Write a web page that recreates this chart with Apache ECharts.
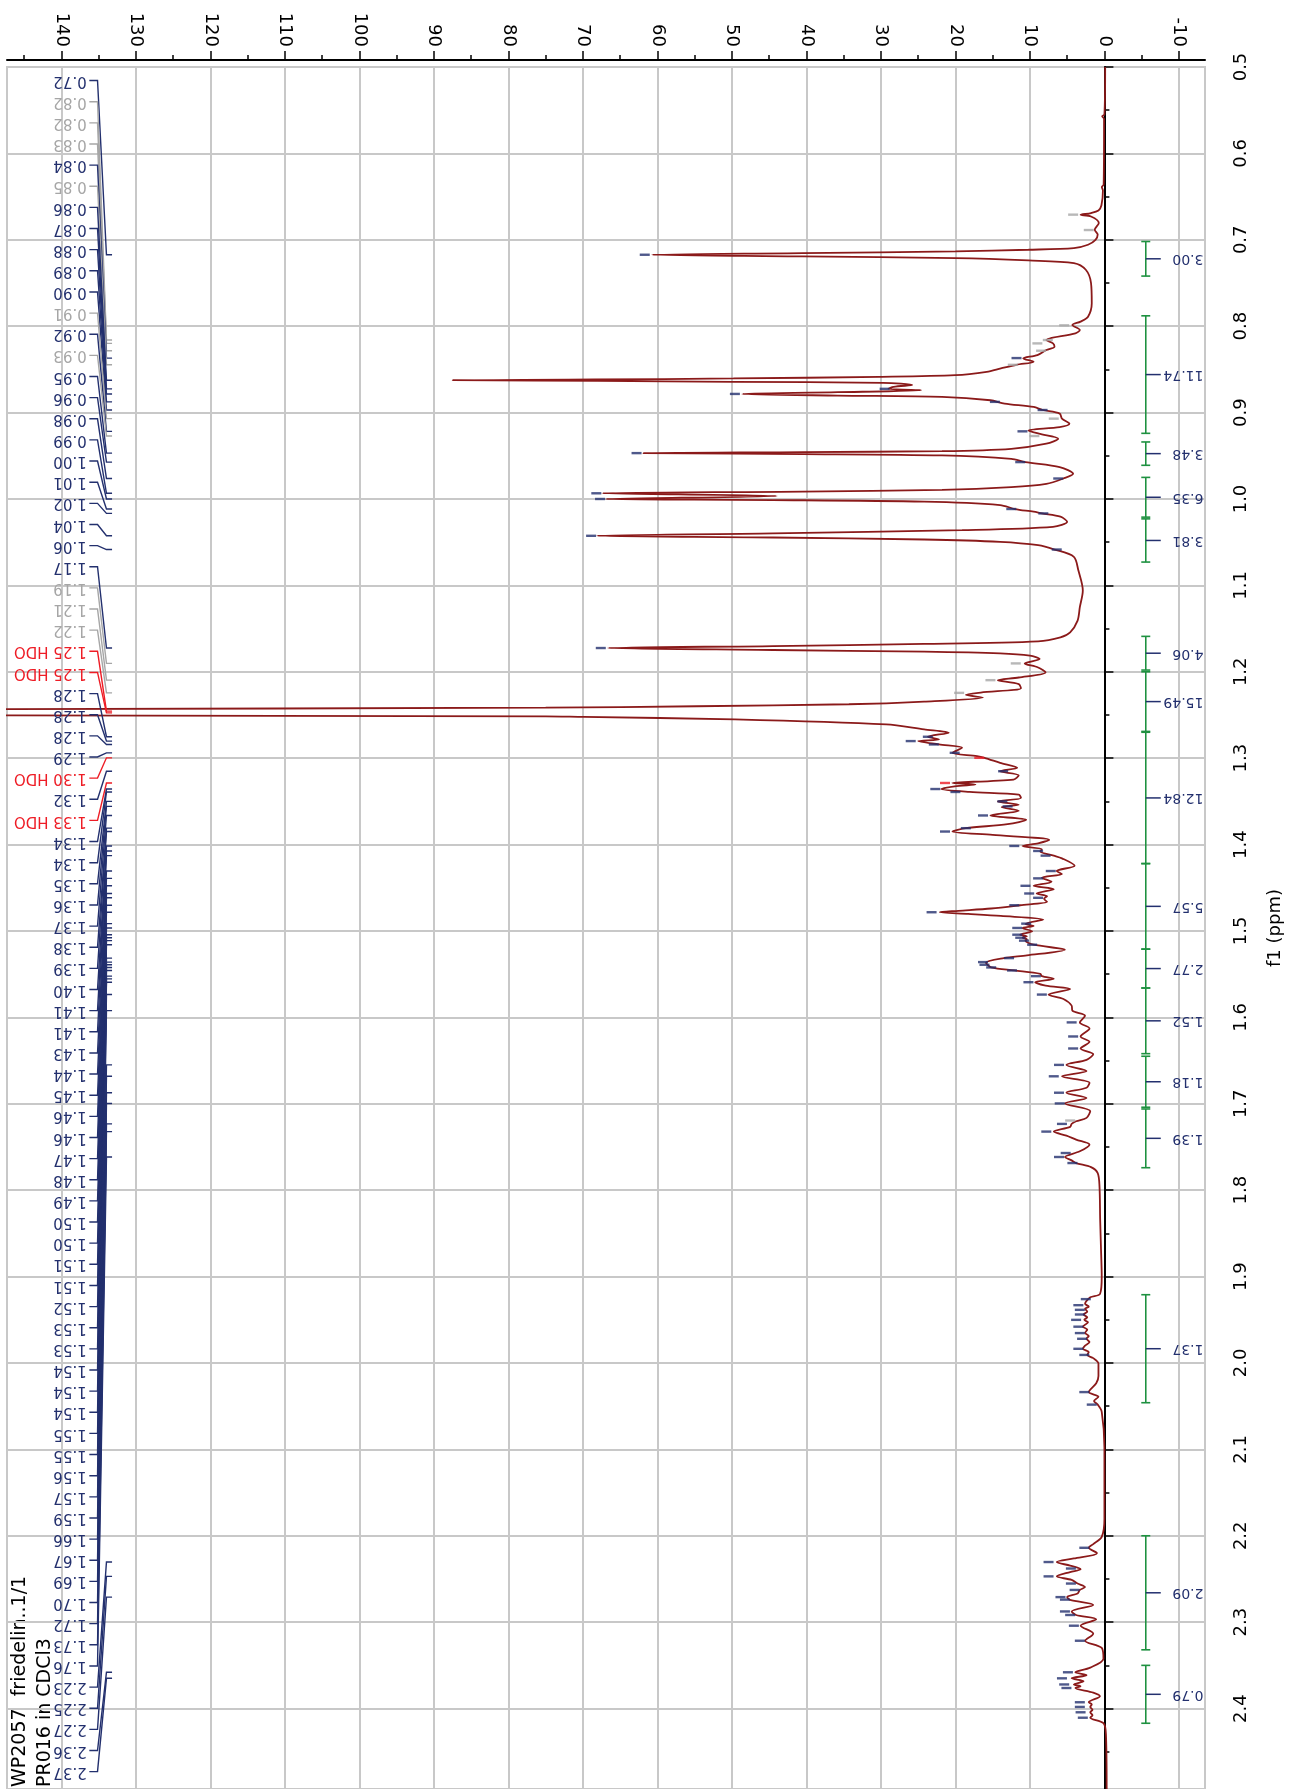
<!DOCTYPE html>
<html><head><meta charset="utf-8">
<script src="https://cdn.jsdelivr.net/npm/echarts@6/dist/echarts.min.js"></script>
<style>html,body{margin:0;padding:0;background:#fff}#chart{width:1292px;height:1789px}</style>
</head><body><div id="chart"></div>
<script>
// ---------- axis ticks ----------
const X_TICKS = [-10,0,10,20,30,40,50,60,70,80,90,100,110,120,130,140];
const X_MINOR = [-5,5,15,25,35,45,55,65,75,85,95,105,115,125,135,145];
const Y_TICKS = [0.5,0.6,0.7,0.8,0.9,1.0,1.1,1.2,1.3,1.4,1.5,1.6,1.7,1.8,1.9,2.0,2.1,2.2,2.3,2.4];
const Y_MINOR = [0.55,0.65,0.75,0.85,0.95,1.05,1.15,1.25,1.35,1.45,1.55,1.65,1.75,1.85,1.95,2.05,2.15,2.25,2.35,2.45];

// ---------- spectrum trace [ppm, intensity] ----------
const SPECTRUM = [
[0.500,-0.1],[0.555,0.0],[0.557,0.3],[0.560,0.05],[0.636,0.1],[0.639,0.35],[0.643,0.2],[0.660,0.4],[0.666,0.8],[0.669,1.8],[0.671,3.2],[0.673,1.8],[0.6805,0.75],[0.6883,1.3],[0.694,0.9],[0.700,1.2],[0.7057,2.2],[0.7096,4.1],[0.7115,10.2],[0.7134,20],[0.7154,40.5],[0.7173,60.7],[0.7192,40.5],[0.7212,20],[0.7239,10.2],[0.727,4.1],[0.7347,2.5],[0.750,1.8],[0.7734,1.7],[0.789,2.2],[0.7947,3.2],[0.7986,4.3],[0.8044,3.3],[0.8083,3.9],[0.816,7.8],[0.8199,6.9],[0.8238,6.7],[0.8276,7.8],[0.8334,9.0],[0.8373,10.9],[0.8412,9.5],[0.8447,11.8],[0.8489,13.9],[0.8528,15.8],[0.8567,20],[0.8586,30.2],[0.8605,49.8],[0.8617,68.4],[0.8625,87.5],[0.8633,68],[0.8644,49.8],[0.8656,29.7],[0.868,25.8],[0.8702,28.3],[0.8725,29],[0.8741,24.6],[0.8764,35.8],[0.8784,48.6],[0.8803,35.8],[0.8818,21.8],[0.8857,15.3],[0.8896,13.4],[0.8935,9.5],[0.897,8.3],[0.9012,6.0],[0.907,5.7],[0.9128,4.7],[0.9167,6.0],[0.9206,10.2],[0.9244,8.8],[0.9302,6.2],[0.936,7.8],[0.9419,12.5],[0.9446,21.8],[0.9457,40.5],[0.9469,61.9],[0.948,40.5],[0.9496,21.8],[0.9535,12.5],[0.9573,10.6],[0.9631,6.0],[0.9709,4.2],[0.9763,5.5],[0.9825,7.8],[0.9863,12.5],[0.9895,21.8],[0.9914,40.5],[0.9934,67.4],[0.9965,44],[1.0,66.9],[1.0012,44.5],[1.0031,24.2],[1.007,14.0],[1.0116,12.0],[1.0147,9.5],[1.0167,8.4],[1.0205,5.9],[1.0264,5.0],[1.0322,6.9],[1.036,19.1],[1.0399,44.5],[1.0426,68.1],[1.0446,44.5],[1.0469,24.2],[1.0496,14.0],[1.0535,8.9],[1.0585,6.7],[1.067,4.1],[1.0826,3.5],[1.1058,2.9],[1.1252,3.3],[1.1407,3.6],[1.1543,4.6],[1.1601,5.9],[1.1647,8.9],[1.1678,24.2],[1.1702,44.5],[1.1725,66.6],[1.1748,44.5],[1.1767,24.2],[1.1787,14.0],[1.1814,10.0],[1.1853,8.7],[1.1903,10.7],[1.195,8.9],[1.2008,7.9],[1.2066,11.5],[1.2097,14.3],[1.2143,11.5],[1.219,11.2],[1.224,16.6],[1.2267,18.6],[1.2298,16.3],[1.2345,24.2],[1.2376,34.3],[1.2399,54.7],[1.2415,75],[1.2432,147],[1.2445,260],[1.2490,260],[1.2505,147],[1.2515,75],[1.2523,69.9],[1.255,49.6],[1.2609,29.3],[1.2667,24.2],[1.2705,20.9],[1.2752,23.7],[1.2783,22.2],[1.2802,25],[1.2841,22.2],[1.288,19.1],[1.2938,20.4],[1.2977,17.1],[1.2996,16.1],[1.3054,14.0],[1.3112,11.7],[1.3151,14.0],[1.3198,11.5],[1.3248,12.2],[1.3287,20.4],[1.3306,17.3],[1.3326,20.1],[1.3357,21.9],[1.3391,18.1],[1.3422,11.5],[1.3461,11.2],[1.35,14.3],[1.3539,11.5],[1.3566,13.8],[1.3609,11.5],[1.3663,15.3],[1.3713,10.5],[1.3764,13.0],[1.381,18.6],[1.3849,20.4],[1.3888,15.0],[1.3946,7.4],[1.3985,8.9],[1.4016,11.0],[1.4054,8.4],[1.4081,8.6],[1.4128,6.8],[1.4159,5.7],[1.4244,4.0],[1.4306,6.4],[1.4341,5.7],[1.4384,8.4],[1.443,7.1],[1.4477,9.5],[1.4516,6.8],[1.4566,9.1],[1.4597,7.7],[1.4628,8.1],[1.4663,7.7],[1.4702,11.3],[1.474,15.2],[1.4767,19.6],[1.4783,22.1],[1.4802,18.3],[1.4826,13.9],[1.4868,8.2],[1.4919,10.6],[1.4942,9.5],[1.4965,11],[1.5004,9.7],[1.5043,11.3],[1.5062,10.4],[1.5078,11.0],[1.5097,10.4],[1.5112,10.6],[1.5159,9.5],[1.5217,5.3],[1.5283,10.4],[1.5314,13.5],[1.5368,15.9],[1.5422,15.2],[1.5457,12.1],[1.5496,8.6],[1.5523,8.4],[1.5554,6.8],[1.5593,9.3],[1.5632,7.9],[1.5671,4.6],[1.5736,7.5],[1.5787,5.5],[1.5864,4.4],[1.5922,4.3],[1.5981,2.6],[1.6058,3.3],[1.6128,2.0],[1.6221,3.2],[1.6283,2.0],[1.636,3.2],[1.6426,1.5],[1.6492,2.4],[1.655,5.1],[1.662,2.4],[1.6682,5.7],[1.6756,2.0],[1.6814,2.4],[1.6872,5.1],[1.6934,2.4],[1.6996,5.3],[1.7085,1.9],[1.7163,2.4],[1.7202,3.8],[1.7233,4.4],[1.7267,4.6],[1.7322,6.8],[1.7368,5.1],[1.7415,3.8],[1.7473,2.0],[1.755,3.3],[1.7616,5.3],[1.7655,4.4],[1.7686,3.8],[1.7733,1.8],[1.7802,0.9],[1.7957,0.66],[1.8345,0.57],[1.8733,0.44],[1.9,0.36],[1.9199,0.58],[1.924,1.9],[1.9282,2.4],[1.9315,2.6],[1.9348,2.1],[1.9373,2.6],[1.9406,2.3],[1.9439,2.8],[1.9472,2.3],[1.9501,2.7],[1.953,2.2],[1.958,2.9],[1.9613,2.3],[1.9654,2.6],[1.9687,2.1],[1.972,2.4],[1.9758,2.0],[1.9799,2.6],[1.9836,2.9],[1.9874,2.1],[1.9907,2.3],[1.9944,1.5],[2.0006,0.8],[2.0151,0.8],[2.0234,1.1],[2.0337,2.1],[2.0391,0.8],[2.0441,1.4],[2.0482,0.9],[2.0565,0.36],[2.0979,0],[2.1807,0],[2.2014,0.36],[2.2097,1.5],[2.2139,2.1],[2.2201,1.0],[2.2263,4.1],[2.2304,6.4],[2.2346,4.6],[2.2387,3.2],[2.242,4.6],[2.247,6.4],[2.2511,4.4],[2.2553,3.6],[2.2594,2.6],[2.2627,3.3],[2.2669,3.6],[2.271,5.0],[2.2743,4.6],[2.2801,1.5],[2.2876,4.4],[2.2917,3.8],[2.2967,1.1],[2.3041,3.2],[2.3133,1.5],[2.3215,2.6],[2.3298,0.36],[2.3422,0.13],[2.3526,1.9],[2.358,3.9],[2.3613,2.4],[2.365,4.4],[2.3683,2.8],[2.3721,4.1],[2.3741,3.2],[2.3762,3.9],[2.3816,1.5],[2.3857,0.6],[2.3927,2.1],[2.3952,1.7],[2.3981,1.9],[2.4014,1.6],[2.4043,1.9],[2.4077,1.6],[2.4106,1.9],[2.4168,0.13],[2.4292,-0.2],[2.4931,-0.3]
];

// ---------- picked-peak markers [ppm, intensity] ----------
const PEAK_MARK_NAVY = [[0.7173,61.7],[0.8369,11.8],[0.8725,29.5],[0.8784,49.6],[0.8876,14.7],[0.897,8.3],[0.9217,11.0],[0.9469,62.8],[0.9573,11.3],[0.9763,6.2],[0.9934,68.2],[1.0,67.7],[1.0116,12.5],[1.0167,8.2],[1.0426,68.9],[1.0585,6.4],[1.1725,67.6],[1.2752,23.7],[1.2802,26.0],[1.2841,22.9],[1.2938,20.1],[1.3151,13.6],[1.3357,22.7],[1.3391,20.0],[1.35,13.7],[1.3558,13.0],[1.3663,16.3],[1.381,18.6],[1.3849,21.4],[1.4016,12.1],[1.4074,8.9],[1.4128,7.9],[1.4306,7.2],[1.4391,8.9],[1.4477,10.6],[1.4566,10.1],[1.4616,8.9],[1.4702,12.1],[1.4783,23.2],[1.4915,10.5],[1.4965,11.7],[1.5043,11.7],[1.5078,11.3],[1.5112,10.8],[1.5159,9.7],[1.5314,12.8],[1.536,16.3],[1.5391,16.1],[1.5422,15.2],[1.5457,12.4],[1.5523,9.2],[1.5593,10.2],[1.5736,8.4],[1.6058,4.4],[1.6221,4.2],[1.636,4.2],[1.655,6.1],[1.6682,6.8],[1.6872,6.1],[1.6996,6.0],[1.7233,5.7],[1.7322,7.8],[1.757,5.2],[1.7616,6.1],[1.7686,4.3],[1.9261,2.5],[1.9331,3.5],[1.9385,3.3],[1.9439,3.3],[1.9501,3.8],[1.958,3.5],[1.9654,3.3],[1.972,3.0],[1.9836,3.5],[1.9907,2.7],[2.0337,2.7],[2.0482,1.7],[2.2139,2.7],[2.2304,7.5],[2.2379,4.5],[2.247,7.5],[2.2553,4.5],[2.2627,4.0],[2.271,5.9],[2.2739,5.3],[2.2876,5.3],[2.2917,4.6],[2.3041,4.1],[2.3215,3.3],[2.358,4.9],[2.365,5.7],[2.3721,5.4],[2.3762,5.1],[2.3927,3.3],[2.3981,3.3],[2.4043,3.2],[2.4106,2.9]];
const PEAK_MARK_GREY = [[0.6709,4.2],[0.6887,2.1],[0.799,5.4],[0.816,7.6],[0.8199,9.0],[0.8284,8.5],[0.8447,12.3],[0.907,6.8],[0.9271,9.4],[1.1903,11.9],[1.2097,15.3],[1.2244,19.5],[1.7194,4.6]];
const PEAK_MARK_RED = [[1.2996,16.8],[1.3287,21.4]];

// ---------- peak labels ----------
const PEAK_LABEL_TEXT = ['0.72','0.82','0.82','0.83','0.84','0.85','0.86','0.87','0.88','0.89','0.90','0.91','0.92','0.93','0.95','0.96','0.98','0.99','1.00','1.01','1.02','1.04','1.06','1.17','1.19','1.21','1.22','1.25 HDO','1.25 HDO','1.28','1.28','1.28','1.29','1.30 HDO','1.32','1.33 HDO','1.34','1.34','1.35','1.36','1.37','1.38','1.39','1.40','1.41','1.41','1.43','1.44','1.45','1.46','1.46','1.47','1.48','1.49','1.50','1.50','1.51','1.51','1.52','1.53','1.53','1.54','1.54','1.54','1.55','1.55','1.56','1.57','1.59','1.66','1.67','1.69','1.70','1.72','1.73','1.76','2.23','2.25','2.27','2.36','2.37'];
const PEAK_LABEL_PPM = [0.7173,0.816,0.8199,0.8284,0.8369,0.8447,0.8625,0.8725,0.8784,0.8876,0.897,0.907,0.9217,0.9271,0.9469,0.9573,0.9763,0.9934,1.0,1.0116,1.0167,1.0426,1.0585,1.1725,1.1903,1.2097,1.2244,1.2455,1.2475,1.2752,1.2802,1.2841,1.2938,1.2996,1.3151,1.3287,1.3357,1.3391,1.35,1.3558,1.3663,1.381,1.3849,1.4016,1.4074,1.4128,1.4306,1.4391,1.4477,1.4566,1.4616,1.4702,1.4783,1.4915,1.4965,1.5043,1.5078,1.5112,1.5159,1.5314,1.536,1.5391,1.5422,1.5457,1.5523,1.5554,1.5593,1.5736,1.5922,1.655,1.6682,1.6872,1.6996,1.7233,1.7322,1.7616,2.2304,2.247,2.271,2.358,2.365];
const PEAK_LABEL_KIND = PEAK_LABEL_TEXT.map((t,i)=> /HDO/.test(t) ? 'r' : ([1,2,3,5,11,13,24,25,26].indexOf(i) >= 0 ? 'g' : 'n'));

// ---------- integrals ----------
const INT_START = [0.702,0.788,0.934,0.975,1.023,1.159,1.200,1.270,1.422,1.521,1.566,1.645,1.706,1.921,2.200,2.350];
const INT_END   = [0.742,0.924,0.961,1.021,1.073,1.198,1.269,1.422,1.521,1.566,1.642,1.704,1.774,2.046,2.332,2.417];
const INT_VALUE = [3.00,11.74,3.48,6.35,3.81,4.06,15.49,12.84,5.57,2.77,1.52,1.18,1.39,1.37,2.09,0.79];

const TITLE_LINES = ['WP2057  friedelin..1/1', 'PR016 in CDCl3'];

// ---------- styling constants ----------
const NAVY = '#23306e', GREY = '#a6a6a6', RED = '#ee1c25', GREEN = '#1e9140', TRACE = '#8b1a1a';
const KIND_COLOR = {n: NAVY, g: GREY, r: RED};
const FONT = '"DejaVu Sans", Verdana, sans-serif';
const X_MIN = -13.5, X_MAX = 147.3, Y_MIN = 0.5, Y_MAX = 2.4931;
const SLOT_FIRST = 0.5157, SLOT_LAST = 2.4730;   // label column extent (ppm)
const LBL_TEXT_I = 136.6, LBL_START_I = 136.25, LBL_STUB_I = 135.15, LBL_BEND_I = 133.95, LBL_TICK_I = 133.2;
const INT_BAR_I = -5.55, INT_TEXT_I = -13.3;

const chart = echarts.init(document.getElementById('chart'), null, {renderer: 'canvas'});

const commonX = {type:'value', position:'top', inverse:true, min:X_MIN, max:X_MAX, offset:7, gridIndex:0};
const commonY = {type:'value', position:'right', inverse:true, min:Y_MIN, max:Y_MAX, offset:9, gridIndex:0};

const option = {
  animation: false,
  backgroundColor: '#fff',
  grid: {left:7, right:74, top:67, bottom:0, show:true, borderColor:'#c8c8c8', borderWidth:2, backgroundColor:'transparent'},
  xAxis: [
    Object.assign({}, commonX, {
      axisLine:{show:true, lineStyle:{color:'#000', width:2}},
      axisTick:{show:true, customValues:X_TICKS, length:9, lineStyle:{color:'#000', width:1.5}},
      axisLabel:{show:true, customValues:X_TICKS, rotate:90, margin:13, fontSize:18, color:'#000', fontFamily:FONT},
      splitLine:{show:true, lineStyle:{color:'#c8c8c8', width:2}}
    }),
    Object.assign({}, commonX, {
      axisLine:{show:false},
      axisTick:{show:true, customValues:X_MINOR, length:5, lineStyle:{color:'#000', width:1.5}},
      axisLabel:{show:false},
      splitLine:{show:false}
    })
  ],
  yAxis: [
    Object.assign({}, commonY, {
      name:'f1 (ppm)', nameLocation:'middle', nameGap:52, nameRotate:90,
      nameTextStyle:{fontSize:18, color:'#000', fontFamily:FONT},
      axisLine:{show:true, lineStyle:{color:'#000', width:2}},
      axisTick:{show:true, customValues:Y_TICKS, length:9, lineStyle:{color:'#000', width:1.5}},
      axisLabel:{show:true, customValues:Y_TICKS, rotate:90, margin:18, fontSize:18, color:'#000', fontFamily:FONT,
        formatter: v => (+v).toFixed(1)},
      splitLine:{show:true, lineStyle:{color:'#c8c8c8', width:2}}
    }),
    Object.assign({}, commonY, {
      axisLine:{show:false},
      axisTick:{show:true, customValues:Y_MINOR, length:5, lineStyle:{color:'#000', width:1.5}},
      axisLabel:{show:false},
      splitLine:{show:false}
    })
  ],
  series: [
    {
      type:'line', name:'spectrum', xAxisIndex:0, yAxisIndex:0, showSymbol:false, symbol:'none',
      clip:true, z:3, silent:true, smooth:0.3,
      lineStyle:{color:TRACE, width:1.8},
      data: SPECTRUM.map(([p, v]) => [v, p])
    },
    {
      type:'scatter', xAxisIndex:0, yAxisIndex:0, symbol:'rect', symbolSize:[10,2.4], z:4, silent:true,
      itemStyle:{color:NAVY}, data: PEAK_MARK_NAVY.map(([p, v]) => [v, p])
    },
    {
      type:'scatter', xAxisIndex:0, yAxisIndex:0, symbol:'rect', symbolSize:[10,2.4], z:4, silent:true,
      itemStyle:{color:GREY}, data: PEAK_MARK_GREY.map(([p, v]) => [v, p])
    },
    {
      type:'scatter', xAxisIndex:0, yAxisIndex:0, symbol:'rect', symbolSize:[10,2.4], z:4, silent:true,
      itemStyle:{color:RED}, data: PEAK_MARK_RED.map(([p, v]) => [v, p])
    },
    {
      type:'custom', xAxisIndex:0, yAxisIndex:0, clip:false, silent:true, z:5,
      data: PEAK_LABEL_PPM.map(p => [LBL_TICK_I, p]),
      renderItem: function (params, api) {
        const i = params.dataIndex;
        const slot = SLOT_FIRST + i * (SLOT_LAST - SLOT_FIRST) / (PEAK_LABEL_TEXT.length - 1);
        const yl = api.coord([0, slot])[1];
        const yp = api.coord([0, PEAK_LABEL_PPM[i]])[1];
        const xt = api.coord([LBL_TEXT_I, Y_MIN])[0];
        const x0 = api.coord([LBL_START_I, Y_MIN])[0];
        const x1 = api.coord([LBL_STUB_I, Y_MIN])[0];
        const x2 = api.coord([LBL_BEND_I, Y_MIN])[0];
        const x3 = api.coord([LBL_TICK_I, Y_MIN])[0];
        const col = KIND_COLOR[PEAK_LABEL_KIND[i]];
        return {
          type:'group',
          children:[
            {type:'polyline', shape:{points:[[x0,yl],[x1,yl],[x2,yp],[x3,yp]]},
             style:{stroke:col, lineWidth:1.4, fill:null}},
            {type:'text', x:xt, y:yl, rotation:Math.PI,
             style:{text:PEAK_LABEL_TEXT[i], fill:col, font:'15px ' + FONT, align:'left', verticalAlign:'middle'}}
          ]
        };
      }
    },
    {
      type:'custom', xAxisIndex:0, yAxisIndex:0, clip:false, silent:true, z:5,
      data: INT_START.map((s, i) => [INT_BAR_I, (s + INT_END[i]) / 2]),
      renderItem: function (params, api) {
        const i = params.dataIndex;
        const x = api.coord([INT_BAR_I, Y_MIN])[0];
        const xt = api.coord([INT_TEXT_I, Y_MIN])[0];
        const y1 = api.coord([0, INT_START[i]])[1];
        const y2 = api.coord([0, INT_END[i]])[1];
        const ym = (y1 + y2) / 2;
        const g = {stroke:GREEN, lineWidth:1.6};
        return {
          type:'group',
          children:[
            {type:'line', shape:{x1:x, y1:y1, x2:x, y2:y2}, style:g},
            {type:'line', shape:{x1:x-4.5, y1:y1, x2:x+4.5, y2:y1}, style:g},
            {type:'line', shape:{x1:x-4.5, y1:y2, x2:x+4.5, y2:y2}, style:g},
            {type:'line', shape:{x1:x, y1:ym, x2:x+15, y2:ym}, style:{stroke:NAVY, lineWidth:1.5}},
            {type:'text', x:xt, y:ym, rotation:Math.PI,
             style:{text:INT_VALUE[i].toFixed(2), fill:NAVY, font:'14px ' + FONT, align:'left', verticalAlign:'middle'}}
          ]
        };
      }
    }
  ],
  graphic: [
    {type:'text', x:20, y:1787, rotation:Math.PI/2, silent:true,
     style:{text:TITLE_LINES[0], fill:'#000', font:'19px ' + FONT, align:'left', verticalAlign:'middle'}},
    {type:'text', x:45, y:1787, rotation:Math.PI/2, silent:true,
     style:{text:TITLE_LINES[1], fill:'#000', font:'19px ' + FONT, align:'left', verticalAlign:'middle'}}
  ]
};
chart.setOption(option);
</script>
</body></html>
